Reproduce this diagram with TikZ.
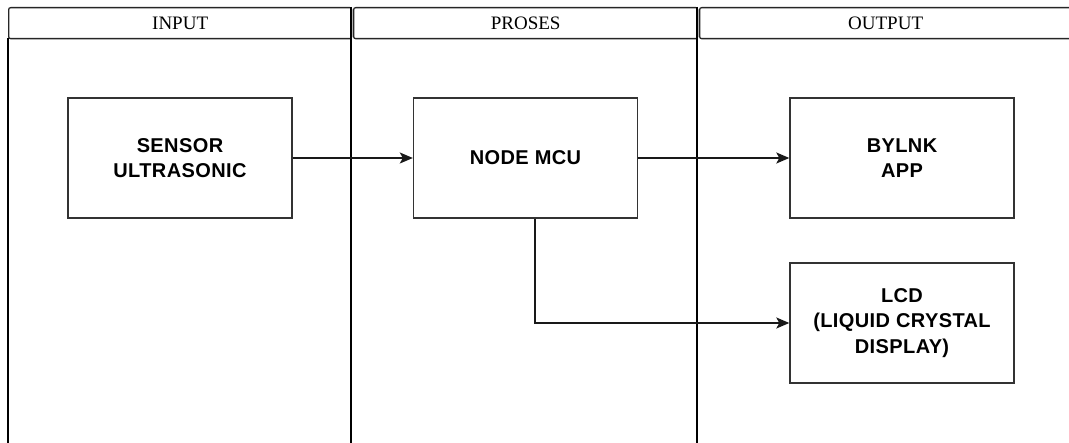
\documentclass[tikz,border=0pt]{standalone}
\usepackage{fontspec}
\setmainfont{Liberation Serif}
\newfontfamily\boxfont[LetterSpace=2]{Liberation Sans}
\usetikzlibrary{arrows.meta}
\begin{document}
\begin{tikzpicture}[x=1pt,y=-1pt,
  lane/.style={line width=2pt, black},
  hdr/.style={draw=black!85, line width=1.3pt, rounded corners=2pt, minimum height=31pt, inner sep=0pt, anchor=north west, font=\fontsize{19}{22}\selectfont},
  blk/.style={draw=black!80, line width=1.4pt, minimum width=224pt, minimum height=120pt, align=center, inner sep=0pt, font=\boxfont\bfseries\fontsize{20}{25.6}\selectfont},
  conn/.style={line width=1.4pt, black!90, -{Stealth[length=13pt,width=11pt,inset=3pt]}}]
\useasboundingbox (0,0) rectangle (1069,443);
% headers
\node[hdr, minimum width=343pt] (hin) at (8,7) {INPUT};
\node[hdr, minimum width=344pt] (hpro) at (353,7) {PROSES};
\node[hdr, minimum width=372pt] (hout) at (699,7) {OUTPUT};
% lane lines
\draw[lane] (8,38) -- (8,443);
\draw[lane] (350.5,7) -- (350.5,443);
\draw[lane] (697,7) -- (697,443);
% blocks
\node[blk] (sensor) at (180,158) {SENSOR\\ULTRASONIC};
\node[blk] (mcu) at (525.5,158) {NODE MCU};
\node[blk] (bylnk) at (902,158) {BYLNK\\APP};
\node[blk] (lcd) at (902,323) {LCD\\(LIQUID CRYSTAL\\DISPLAY)};
% connectors
\draw[conn] (sensor) -- (mcu);
\draw[conn] (mcu) -- (bylnk);
\draw[conn] ([xshift=9.5pt]mcu.south) |- (lcd);
\end{tikzpicture}
\end{document}
